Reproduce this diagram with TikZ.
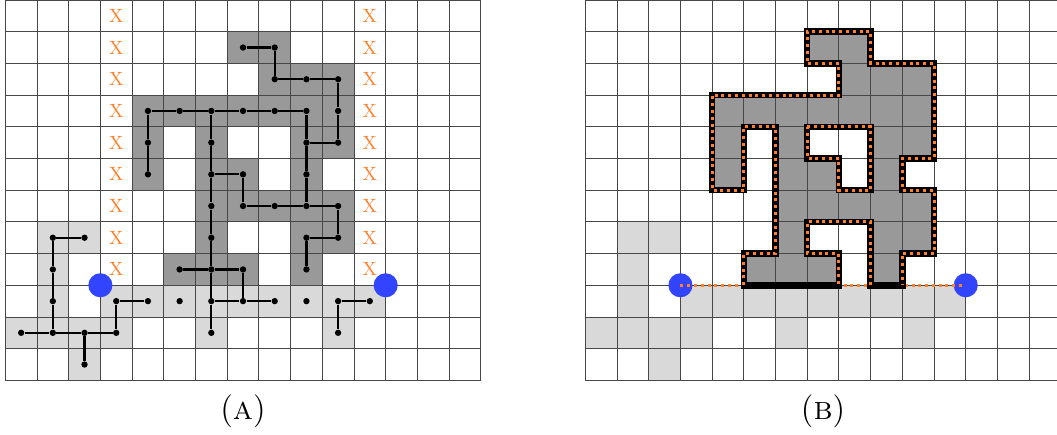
\documentclass[tikz,border=0pt]{standalone}
\definecolor{orng}{RGB}{255,128,40}
\definecolor{blu}{RGB}{51,68,255}
\definecolor{dk}{RGB}{153,153,153}
\definecolor{lt}{RGB}{217,217,217}
\begin{document}
\begin{tikzpicture}[x=0.5cm,y=0.5cm,
  gridline/.style={draw=black!72, line width=0.4pt},
  dotnode/.style={circle, fill=black, inner sep=0pt, minimum size=1mm},
  edge/.style={draw=black, line width=1pt},
  bigdot/.style={circle, fill=blu, inner sep=0pt, minimum size=0.38cm},
  xmark/.style={text=orng, font=\fontsize{8.6}{10}\selectfont, inner sep=0pt},
  outl/.style={draw=black, line width=2.9pt, line join=miter},
  odots/.style={draw=orng, line width=1.35pt, dash pattern=on 1.35pt off 1.7pt},
  caplabel/.style={font=\fontsize{14.8}{17}\selectfont, inner sep=0pt}]
\useasboundingbox (-0.167,-1.72) rectangle (33.18,12.0);

% ---------- left grid (A) ----------
\foreach \c/\r in {7/1,8/1, 8/2,9/2,10/2, 4/3,5/3,6/3,7/3,8/3,9/3,10/3,
  4/4,6/4,9/4,10/4, 4/5,6/5,7/5,9/5, 6/6,7/6,8/6,9/6,10/6, 6/7,9/7,10/7,
  5/8,6/8,7/8,9/8}
  \fill[dk] (\c,{11-\r}) rectangle ++(1,1);
\foreach \c/\r in {1/7,2/7, 1/8, 1/9,3/9,4/9,5/9,6/9,7/9,8/9,9/9,10/9,11/9,
  0/10,1/10,2/10,3/10,6/10,10/10, 2/11}
  \fill[lt] (\c,{11-\r}) rectangle ++(1,1);
\draw[gridline, step=1] (0,0) grid (15,12);

\foreach \r in {0,...,8} {
  \node[xmark] (xl\r) at (3.5,{11.5-\r}) {X};
  \node[xmark] (xr\r) at (11.5,{11.5-\r}) {X};
}

\foreach \c/\r in {1/7,2/7,1/8,1/9,1/10,0/10,2/10,3/10,2/11,3/9,4/9,5/9,
  7/1,8/1,8/2,9/2,10/2,10/3,10/4,9/4,4/3,5/3,6/3,7/3,8/3,9/3,4/4,4/5,9/5,9/6,
  6/4,6/5,6/6,6/7,6/8,6/9,6/10,7/5,7/6,8/6,10/6,10/7,9/7,9/8,5/8,7/8,7/9,8/9,
  9/9,10/9,11/9,10/10}
  \node[dotnode] (d\c-\r) at ({\c+0.5},{11.5-\r}) {};

\draw[edge] (d1-7) -- (d2-7);
\draw[edge] (d1-7) -- (d1-8) -- (d1-9) -- (d1-10);
\draw[edge] (d0-10) -- (d1-10) -- (d2-10) -- (d3-10);
\draw[edge] (d2-10) -- (d2-11);
\draw[edge] (d3-10) -- (d3-9) -- (d4-9);
\draw[edge] (d7-1) -- (d8-1) -- (d8-2) -- (d9-2) -- (d10-2) -- (d10-3) -- (d10-4) -- (d9-4);
\draw[edge] (d4-3) -- (d5-3) -- (d6-3) -- (d7-3) -- (d8-3) -- (d9-3);
\draw[edge] (d4-3) -- (d4-4) -- (d4-5);
\draw[edge] (d9-3) -- (d9-4) -- (d9-5) -- (d9-6);
\draw[edge] (d6-3) -- (d6-4) -- (d6-5) -- (d6-6) -- (d6-7) -- (d6-8) -- (d6-9) -- (d6-10);
\draw[edge] (d6-5) -- (d7-5) -- (d7-6) -- (d8-6) -- (d9-6) -- (d10-6) -- (d10-7) -- (d9-7) -- (d9-8);
\draw[edge] (d5-8) -- (d6-8) -- (d7-8) -- (d7-9) -- (d8-9);
\draw[edge] (d6-9) -- (d7-9);
\draw[edge] (d10-9) -- (d11-9);
\draw[edge] (d10-9) -- (d10-10);

\node[bigdot] (la) at (3,3) {};
\node[bigdot] (lb) at (12,3) {};

\node[caplabel] (capa) at (7.5,-0.98) {(\textsc{a})};

% ---------- right grid (B) ----------
\begin{scope}[shift={(18.3,0)}]
\foreach \c/\r in {7/1,8/1, 8/2,9/2,10/2, 4/3,5/3,6/3,7/3,8/3,9/3,10/3,
  4/4,6/4,9/4,10/4, 4/5,6/5,7/5,9/5, 6/6,7/6,8/6,9/6,10/6, 6/7,9/7,10/7,
  5/8,6/8,7/8,9/8}
  \fill[dk] (\c,{11-\r}) rectangle ++(1,1);
\foreach \c/\r in {1/7,2/7, 1/8, 1/9,3/9,4/9,5/9,6/9,7/9,8/9,9/9,10/9,11/9,
  0/10,1/10,2/10,3/10,6/10,10/10, 2/11}
  \fill[lt] (\c,{11-\r}) rectangle ++(1,1);
\draw[gridline, step=1] (0,0) grid (15,12);

\node[bigdot] (ra) at (3,3) {};
\node[bigdot] (rb) at (12,3) {};
\draw[odots] (ra.center) -- (rb.center);

% outer boundary (y = 12 - row line)
\draw[outl] (9,3) -- (9,5) -- (7,5) -- (7,4) -- (8,4) -- (8,3) -- (5,3) -- (5,4)
  -- (6,4) -- (6,8) -- (5,8) -- (5,6) -- (4,6) -- (4,9) -- (8,9) -- (8,10)
  -- (7,10) -- (7,11) -- (9,11) -- (9,10) -- (11,10) -- (11,7) -- (10,7)
  -- (10,6) -- (11,6) -- (11,4) -- (10,4) -- (10,3) -- cycle;
% hole
\draw[outl] (7,8) -- (9,8) -- (9,6) -- (8,6) -- (8,7) -- (7,7) -- cycle;
% orange dotted parts
\draw[odots] (9,3) -- (9,5) -- (7,5) -- (7,4) -- (8,4) -- (8,3);
\draw[odots] (5,3) -- (5,4) -- (6,4) -- (6,8) -- (5,8) -- (5,6) -- (4,6) -- (4,9)
  -- (8,9) -- (8,10) -- (7,10) -- (7,11) -- (9,11) -- (9,10) -- (11,10) -- (11,7)
  -- (10,7) -- (10,6) -- (11,6) -- (11,4) -- (10,4) -- (10,3);
\draw[odots] (7,8) -- (9,8) -- (9,6) -- (8,6) -- (8,7) -- (7,7) -- cycle;

\node[caplabel] (capb) at (7.5,-0.98) {(\textsc{b})};
\end{scope}
\end{tikzpicture}
\end{document}
